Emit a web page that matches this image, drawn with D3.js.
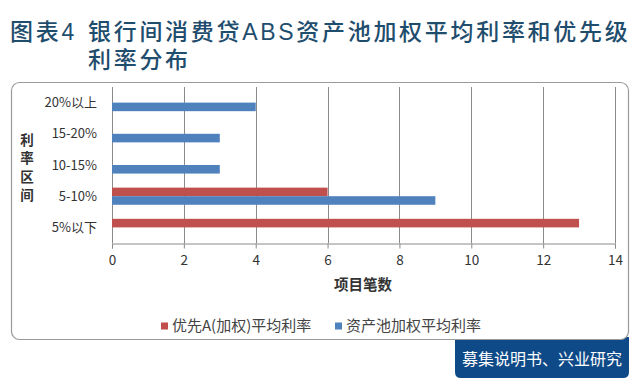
<!DOCTYPE html>
<html><head><meta charset="utf-8">
<script src="https://cdn.jsdelivr.net/npm/d3@7"></script>
<style>body{margin:0;background:#fff;}svg{display:block;}</style>
</head><body>
<script>
const categories = ["20%以上","15-20%","10-15%","5-10%","5%以下"];
const seriesNames = ["优先A(加权)平均利率","资产池加权平均利率"];
const seniorA = [0,0,0,6,13];
const poolAvg = [4,3,3,9,0];
const xTicks = [0,2,4,6,8,10,12,14];
const colors = ["#C0504D","#4F81BD"];

const W=640,H=386;
const svg=d3.select("body").append("svg").attr("width",W).attr("height",H);
const font='"Noto Sans CJK SC","Noto Sans",sans-serif';
const tfont='"Liberation Sans","Noto Sans CJK SC",sans-serif';

// title
const tcol="#1f4d6d";
const title=(x,y,t)=>svg.append("text").attr("x",x).attr("y",y).attr("font-family",tfont).attr("font-size",23)
  .attr("font-weight",500).attr("letter-spacing",2.7).attr("fill",tcol).text(t);
title(10,39.5,"图表4");
title(88,39.5,"银行间消费贷ABS资产池加权平均利率和优先级");
title(88,67.5,"利率分布");

// footer box
svg.append("path").attr("d","M455,337 L629,337 L629,372 Q629,378 623,378 L461,378 Q455,378 455,372 Z").attr("fill","#0f4a88");
svg.append("text").attr("x",542).attr("y",365).attr("text-anchor","middle").attr("font-family",font).attr("font-size",16).attr("fill","#fff")
  .text("募集说明书、兴业研究");

// chart box
svg.append("rect").attr("x",11.5).attr("y",82.5).attr("width",617).attr("height",257).attr("rx",8).attr("fill","#fff").attr("stroke","#9a9a9a").attr("stroke-width",1.2);

const x=d3.scaleLinear().domain([0,14]).range([112,615]);
const y=d3.scaleBand().domain(categories).range([87,243]).paddingInner(0.45).paddingOuter(0.225);
const ys=d3.scaleBand().domain([0,1]).range([0,y.bandwidth()]);

// gridlines
svg.append("g").selectAll("line").data(xTicks).join("line")
  .attr("x1",d=>Math.round(x(d))+0.5).attr("x2",d=>Math.round(x(d))+0.5)
  .attr("y1",87).attr("y2",243).attr("stroke","#8a8a8a").attr("stroke-width",1);

// axis
const ax=svg.append("g").attr("transform","translate(0,243.5)")
  .call(d3.axisBottom(x).tickValues(xTicks).tickSize(5).tickPadding(7));
ax.select(".domain").attr("stroke","#8a8a8a");
ax.selectAll(".tick line").attr("stroke","#8a8a8a");
ax.selectAll(".tick text").attr("font-family",font).attr("font-size",13.5).attr("fill","#333");

// bars
const data=[seniorA,poolAvg];
data.forEach((vals,si)=>{
  svg.append("g").selectAll("rect").data(categories).join("rect")
    .attr("x",x(0)).attr("y",(c)=>y(c)+ys(si))
    .attr("width",(c,i)=>x(vals[i])-x(0)).attr("height",ys.bandwidth())
    .attr("fill",colors[si]);
});

// category labels
svg.append("g").selectAll("text").data(categories).join("text")
  .attr("x",97).attr("y",c=>y(c)+y.bandwidth()/2).attr("dy","0.35em").attr("text-anchor","end")
  .attr("font-family",font).attr("font-size",13).attr("fill","#333").text(c=>c);

// y title
const yt="利率区间".split("");
svg.append("g").selectAll("text").data(yt).join("text")
  .attr("x",27).attr("y",(d,i)=>140+i*18.4).attr("dy","0.35em").attr("text-anchor","middle")
  .attr("font-family",font).attr("font-size",13.5).attr("font-weight",700).attr("fill","#333").text(d=>d);

// x title
svg.append("text").attr("x",363).attr("y",285).attr("dy","0.35em").attr("text-anchor","middle")
  .attr("font-family",font).attr("font-size",14.5).attr("font-weight",700).attr("fill","#333").text("项目笔数");

// legend
const leg=[{x:161,t:seriesNames[0],c:colors[0]},{x:335,t:seriesNames[1],c:colors[1]}];
leg.forEach(l=>{
  svg.append("rect").attr("x",l.x).attr("y",322.5).attr("width",7).attr("height",7).attr("fill",l.c);
  svg.append("text").attr("x",l.x+11).attr("y",326).attr("dy","0.35em").attr("font-family",font).attr("font-size",15).attr("fill","#444").text(l.t);
});
</script>
</body></html>
